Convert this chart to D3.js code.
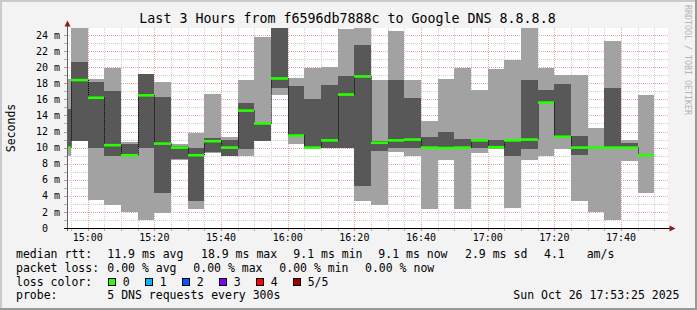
<!DOCTYPE html>
<html>
<head>
<meta charset="utf-8">
<script src="https://cdn.jsdelivr.net/npm/d3@7"></script>
<style>
html, body { margin: 0; padding: 0; background: #f3f3f3; }
svg { display: block; }
text { font-family: "DejaVu Sans Mono", monospace; fill: #000; }
</style>
</head>
<body>
<svg id="chart" width="697" height="310"></svg>
<script>
// 5 minute steps, each bar ends at the listed time (first one starts at 14:53:25)
var firstStart = "14:53:25";
var barEnds = ["14:55","15:00","15:05","15:10","15:15","15:20","15:25","15:30","15:35","15:40",
               "15:45","15:50","15:55","16:00","16:05","16:10","16:15","16:20","16:25","16:30",
               "16:35","16:40","16:45","16:50","16:55","17:00","17:05","17:10","17:15","17:20",
               "17:25","17:30","17:35","17:40","17:45","17:50"];

// sorted pings per step, in ms
var pingMin = [9.0, 10.8, 3.5, 2.9, 2.0, 1.0, 1.9, 8.5, 2.4, 9.3, 9.0, 9.0, 10.8, 16.5, 10.4, 9.9, 10.0, 10.0,
               3.4, 2.9, 9.5, 9.0, 2.4, 8.5, 2.4, 9.35, 9.85, 2.5, 8.5, 9.0, 9.85, 3.4, 2.0, 1.0, 8.3, 4.3];
var pingLo  = [10.0, 10.8, 9.9, 9.0, 9.0, 9.9, 4.4, 8.6, 3.4, 9.4, 9.0, 9.85, 10.85, 17.4, 11.4, 9.95, 10.0, 10.0,
               5.2, 9.6, 9.9, 9.9, 9.9, 9.95, 9.9, 9.95, 9.9, 9.0, 9.85, 15.5, 11.2, 9.07, 10.0, 10.0, 9.95, 9.05];
var median  = [10.0, 18.4, 16.2, 10.3, 9.05, 16.5, 10.5, 10.0, 9.05, 10.8, 10.0, 14.6, 13.0, 18.6, 11.5, 10.0, 10.9, 16.6,
               18.85, 10.6, 10.9, 11.0, 10.0, 9.95, 10.0, 10.9, 10.05, 10.9, 11.0, 15.6, 11.35, 10.0, 10.0, 10.0, 10.0, 9.05];
var pingHi  = [14.8, 20.6, 18.2, 17.0, 10.45, 19.2, 16.3, 10.2, 10.0, 11.15, 10.95, 15.6, 13.1, 26, 17.66, 16.0, 17.8, 18.9,
               22.8, 10.8, 18.4, 16.2, 11.35, 11.94, 11.05, 11.05, 10.9, 11.0, 18.4, 17.16, 17.9, 11.44, 10.0, 17.45, 10.57, 9.05];
var pingMax = [18.5, 26, 18.5, 19.9, 10.7, 19.2, 18.1, 10.4, 11.85, 16.7, 11.36, 18.4, 23.7, 27, 18.7, 19.9, 20.06, 24.7,
               26, 18.4, 24.5, 18.4, 13.3, 18.5, 19.9, 17.16, 19.8, 20.9, 26, 19.9, 19.03, 19.03, 12.4, 23.2, 10.9, 16.5];

var yLabels = [0, 2, 4, 6, 8, 10, 12, 14, 16, 18, 20, 22, 24];
var xLabels = ["15:00","15:20","15:40","16:00","16:20","16:40","17:00","17:20","17:40"];

var lossLabels = ["0", "1", "2", "3", "4", "5/5"];
var lossColors = ["#26ff00", "#00b8ff", "#0059ff", "#7e00ff", "#ff0000", "#a10000"];

(function () {
    var W = 697, H = 310,
        pl = 67, pr = 668, pt = 28, pb = 228,
        lightSmoke = "#a2a2a2", darkSmoke = "#585858";

    function t(s) {
        return new Date("2025-10-26T" + (s.length == 5 ? s + ":00" : s));
    }

    var svg = d3.select("#chart");

    var x = d3.scaleTime().domain([t("15:00"), t("18:00")]).range([87.7, 687.7]);
    var y = d3.scaleLinear().domain([0, 200 / 8.04]).range([pb, pt]);

    // background + 3d frame
    svg.append("rect").attr("width", W).attr("height", H).attr("fill", "#f3f3f3");
    svg.append("path").attr("d", "M0,0H" + W + "V2H2V" + H + "H0Z").attr("fill", "#cbcbcb");
    svg.append("path").attr("d", "M" + W + ",0V" + H + "H0V" + (H - 2) + "H" + (W - 2) + "V0Z").attr("fill", "#999999");

    svg.append("rect")
        .attr("x", pl).attr("y", pt)
        .attr("width", pr - pl).attr("height", pb - pt)
        .attr("fill", "#fff");

    svg.append("clipPath").attr("id", "plot")
        .append("rect")
        .attr("x", pl).attr("y", pt)
        .attr("width", pr - pl).attr("height", pb - pt);

    // grid
    var grid = svg.append("g").attr("stroke-dasharray", "1,1").attr("stroke-width", 1);
    grid.selectAll(".hg").data(d3.range(1, 25)).enter().append("line")
        .attr("x1", pl).attr("x2", pr)
        .attr("y1", function (d) { return Math.round(y(d)) + 0.5; })
        .attr("y2", function (d) { return Math.round(y(d)) + 0.5; })
        .attr("stroke", function (d) { return d % 2 == 0 ? "#eba5a5" : "#cfcfcf"; });

    var vTimes = d3.timeMinute.every(5).range(x.invert(pl), x.invert(pr));
    grid.selectAll(".vg").data(vTimes).enter().append("line")
        .attr("x1", function (d) { return Math.round(x(d)) + 0.5; })
        .attr("x2", function (d) { return Math.round(x(d)) + 0.5; })
        .attr("y1", pt).attr("y2", pb)
        .attr("stroke", function (d) { return d.getMinutes() % 20 == 0 ? "#eba5a5" : "#cfcfcf"; });

    // smoke
    var bars = barEnds.map(function (e, i) {
        return {
            start: t(i == 0 ? firstStart : barEnds[i - 1]),
            end: t(e),
            min: pingMin[i], lo: pingLo[i], med: median[i], hi: pingHi[i], max: pingMax[i]
        };
    });

    var plot = svg.append("g").attr("clip-path", "url(#plot)");

    function bx(d) { return Math.round(x(d.start)); }
    function bw(d) { return Math.round(x(d.end)) - Math.round(x(d.start)); }

    plot.selectAll(".light").data(bars).enter().append("rect")
        .attr("x", bx).attr("width", bw)
        .attr("y", function (d) { return Math.round(y(d.max)); })
        .attr("height", function (d) { return Math.round(y(d.min)) - Math.round(y(d.max)); })
        .attr("fill", lightSmoke)
        .attr("shape-rendering", "crispEdges");

    plot.selectAll(".dark").data(bars).enter().append("rect")
        .attr("x", bx).attr("width", bw)
        .attr("y", function (d) { return Math.round(y(d.hi)); })
        .attr("height", function (d) { return Math.round(y(d.lo)) - Math.round(y(d.hi)); })
        .attr("fill", darkSmoke)
        .attr("shape-rendering", "crispEdges");

    // step joins of the median line
    plot.selectAll(".join").data(bars.slice(0, -1)).enter().append("line")
        .attr("x1", function (d) { return Math.round(x(d.end)) + 0.5; })
        .attr("x2", function (d) { return Math.round(x(d.end)) + 0.5; })
        .attr("y1", function (d) { return y(d.med); })
        .attr("y2", function (d, i) { return y(bars[i + 1].med); })
        .attr("stroke", "#000")
        .attr("stroke-dasharray", "1,1");

    plot.selectAll(".med").data(bars).enter().append("rect")
        .attr("x", bx).attr("width", bw)
        .attr("y", function (d) { return y(d.med) - 1.3; })
        .attr("height", 2.6)
        .attr("fill", lossColors[0]);

    // axes
    var axes = svg.append("g").attr("shape-rendering", "crispEdges");
    axes.selectAll(".yt").data(d3.range(0, 25)).enter().append("line")
        .attr("x1", pl - 3).attr("x2", pl)
        .attr("y1", function (d) { return Math.round(y(d)) + 0.5; })
        .attr("y2", function (d) { return Math.round(y(d)) + 0.5; })
        .attr("stroke", function (d) { return d % 2 == 0 ? "#d08a8a" : "#b0b0b0"; });
    axes.selectAll(".xt").data(vTimes).enter().append("line")
        .attr("x1", function (d) { return Math.round(x(d)) + 0.5; })
        .attr("x2", function (d) { return Math.round(x(d)) + 0.5; })
        .attr("y1", pb).attr("y2", pb + 3)
        .attr("stroke", function (d) { return d.getMinutes() % 20 == 0 ? "#d08a8a" : "#b0b0b0"; });

    axes.append("line")
        .attr("x1", pl + 0.5).attr("x2", pl + 0.5)
        .attr("y1", pb + 3).attr("y2", pt - 3)
        .attr("stroke", "#606060");
    axes.append("line")
        .attr("x1", pl - 3).attr("x2", pr + 2)
        .attr("y1", pb + 0.5).attr("y2", pb + 0.5)
        .attr("stroke", "#000");

    svg.append("path").attr("d", "M64.5,26.5L70.5,26.5L67.5,20.5Z").attr("fill", "#8e1c1c");
    svg.append("path").attr("d", "M669.5,225.5L669.5,231.5L675.5,228.5Z").attr("fill", "#8e1c1c");

    // axis labels
    svg.selectAll(".yl").data(yLabels).enter().append("text")
        .attr("x", function (d) { return d == 0 ? 60 - 2 * 6.02 : 60; })
        .attr("y", function (d) { return y(d) + 3.6; })
        .attr("text-anchor", "end")
        .style("font-size", "10px")
        .text(function (d) { return d == 0 ? "0" : d + " m"; });

    svg.selectAll(".xl").data(xLabels).enter().append("text")
        .attr("x", function (d) { return x(t(d)); })
        .attr("y", 241)
        .attr("text-anchor", "middle")
        .style("font-size", "10px")
        .text(function (d) { return d; });

    svg.append("text")
        .attr("transform", "translate(15," + ((pt + pb) / 2) + ") rotate(-90)")
        .attr("text-anchor", "middle")
        .style("font-size", "11.5px")
        .text("Seconds");

    svg.append("text")
        .attr("x", 347.5).attr("y", 23)
        .attr("text-anchor", "middle")
        .style("font-size", "13.3px")
        .text("Last 3 Hours from f6596db7888c to Google DNS 8.8.8.8");

    svg.append("text")
        .attr("transform", "translate(685,60) rotate(90)")
        .attr("text-anchor", "middle")
        .style("font-size", "8.3px")
        .style("fill", "#b4b4b4")
        .text("RRDTOOL / TOBI OETIKER");

    // legend
    var rows = [257.7, 271.6, 285.5, 299.4];
    var legend = [
        [16, 0, "median rtt:"], [107.3, 0, "11.9 ms avg"], [201, 0, "18.9 ms max"], [293.3, 0, "9.1 ms min"],
        [378.3, 0, "9.1 ms now"], [465, 0, "2.9 ms sd"], [544, 0, "4.1"], [586.7, 0, "am/s"],
        [16, 1, "packet loss:"], [107.3, 1, "0.00 % avg"], [193.3, 1, "0.00 % max"], [279.3, 1, "0.00 % min"],
        [365, 1, "0.00 % now"],
        [16, 2, "loss color:"],
        [16, 3, "probe:"], [107.3, 3, "5 DNS requests every 300s"], [513.3, 3, "Sun Oct 26 17:53:25 2025"]
    ];
    svg.selectAll(".lg").data(legend).enter().append("text")
        .attr("x", function (d) { return d[0]; })
        .attr("y", function (d) { return rows[d[1]]; })
        .style("font-size", "11.5px")
        .text(function (d) { return d[2]; });

    var loss = svg.selectAll(".loss").data(lossLabels).enter().append("g")
        .attr("transform", function (d, i) { return "translate(" + (108 + i * 37) + ",0)"; });
    loss.append("rect")
        .attr("x", 0.5).attr("y", 278.5).attr("width", 7).attr("height", 7)
        .attr("fill", function (d, i) { return lossColors[i]; })
        .attr("stroke", "#000")
        .attr("shape-rendering", "crispEdges");
    loss.append("text")
        .attr("x", 14.7).attr("y", rows[2])
        .style("font-size", "11.5px")
        .text(function (d) { return d; });
})();
</script>
</body>
</html>
